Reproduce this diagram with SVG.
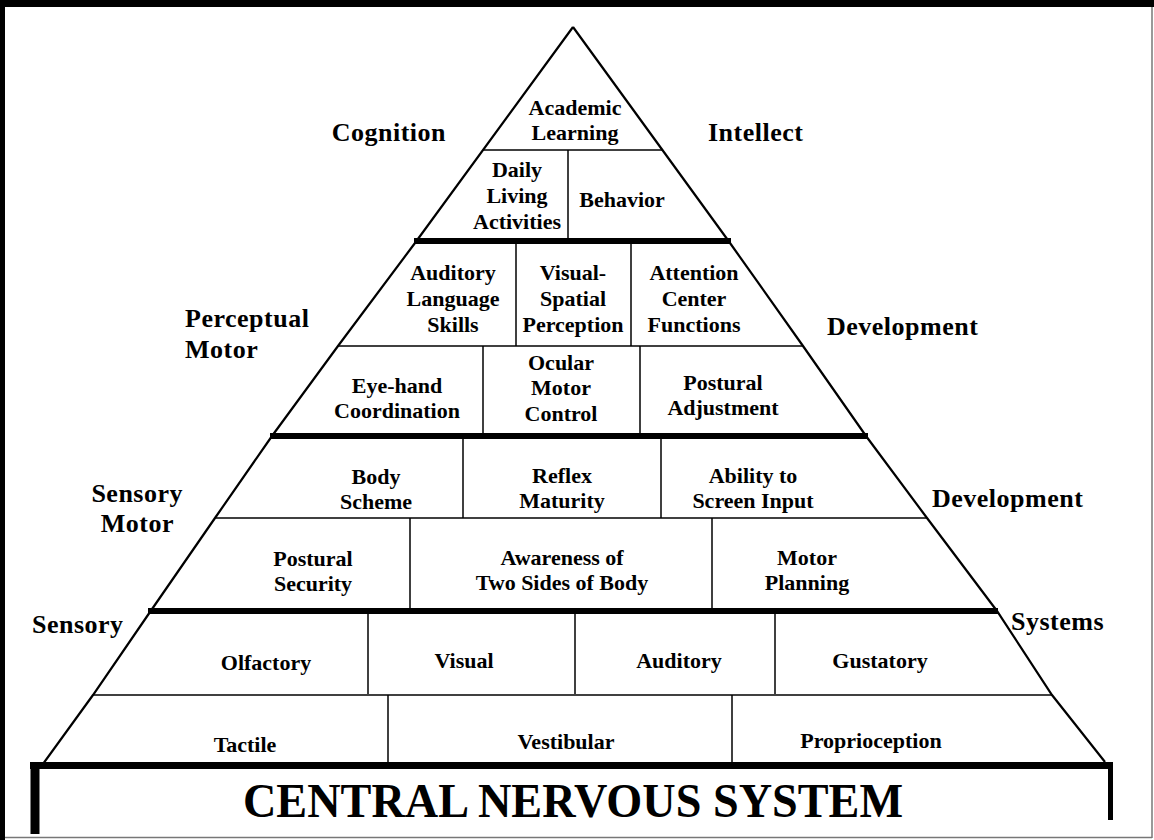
<svg xmlns="http://www.w3.org/2000/svg" width="1154" height="840" viewBox="0 0 1154 840">
<style>
.t{font-family:"Liberation Serif","Times New Roman",serif;font-weight:bold;font-size:22px;fill:#000;text-anchor:middle}
.s{font-family:"Liberation Serif","Times New Roman",serif;font-weight:bold;font-size:26px;letter-spacing:0.5px;fill:#000}
.e{text-anchor:end}
.big{font-family:"Liberation Serif","Times New Roman",serif;font-weight:bold;font-size:48px;fill:#000;text-anchor:middle}
.thin{stroke:#000;stroke-width:1.5;fill:none}
.bold{stroke:#000;stroke-width:6;fill:none}
.edge{stroke:#000;stroke-width:2.2;fill:none}
</style>
<rect x="0" y="0" width="1154" height="840" fill="#fff"/>
<!-- frame -->
<rect x="0" y="0" width="1154" height="7" fill="#000"/>
<rect x="0" y="0" width="5" height="840" fill="#000"/>
<line x1="1152" y1="7" x2="1152" y2="838" stroke="#777" stroke-width="1.5"/>
<line x1="5" y1="837.5" x2="1152" y2="837.5" stroke="#777" stroke-width="1.5"/>

<g id="connectors">
  <!-- pyramid edges -->
  <polyline class="edge" points="573,27 415,243 338,346 272,436 215,518 150,612 93,695 43,764"/>
  <polyline class="edge" points="573,27 730,243 803,346 866,436 927,518 997,611 1052,695 1105,762"/>
  <!-- tier 1 -->
  <line class="thin" x1="483" y1="150" x2="663" y2="150"/>
  <line class="thin" x1="568" y1="150" x2="568" y2="240"/>
  <line class="bold" x1="414" y1="241" x2="731" y2="241"/>
  <!-- tier 2 -->
  <line class="thin" x1="516" y1="244" x2="516" y2="346"/>
  <line class="thin" x1="631" y1="244" x2="631" y2="346"/>
  <line class="thin" x1="338" y1="346" x2="803" y2="346"/>
  <line class="thin" x1="483" y1="346" x2="483" y2="434"/>
  <line class="thin" x1="640" y1="346" x2="640" y2="434"/>
  <line class="bold" x1="270" y1="436" x2="868" y2="436"/>
  <!-- tier 3 -->
  <line class="thin" x1="463" y1="439" x2="463" y2="518"/>
  <line class="thin" x1="661" y1="439" x2="661" y2="518"/>
  <line class="thin" x1="215" y1="518" x2="927" y2="518"/>
  <line class="thin" x1="410" y1="518" x2="410" y2="608"/>
  <line class="thin" x1="712" y1="518" x2="712" y2="608"/>
  <line class="bold" x1="148" y1="611" x2="998" y2="611"/>
  <!-- tier 4 -->
  <line class="thin" x1="368" y1="614" x2="368" y2="694"/>
  <line class="thin" x1="575" y1="614" x2="575" y2="694"/>
  <line class="thin" x1="775" y1="614" x2="775" y2="694"/>
  <line class="thin" x1="93" y1="695" x2="1052" y2="695"/>
  <line class="thin" x1="388" y1="695" x2="388" y2="762"/>
  <line class="thin" x1="732" y1="695" x2="732" y2="762"/>
  <!-- base box -->
  <line x1="30" y1="765.5" x2="1113" y2="765.5" stroke="#000" stroke-width="7"/>
  <line x1="35" y1="762" x2="35" y2="834" stroke="#000" stroke-width="9"/>
  <line x1="1110.5" y1="762" x2="1110.5" y2="820" stroke="#000" stroke-width="5"/>
</g>

<g id="academic-learning"><text class="t" x="575" y="115">Academic</text><text class="t" x="575" y="140">Learning</text></g>
<g id="daily-living"><text class="t" x="517" y="177">Daily</text><text class="t" x="517" y="203">Living</text><text class="t" x="517" y="229">Activities</text></g>
<g id="behavior"><text class="t" x="622" y="207">Behavior</text></g>

<g id="auditory-language"><text class="t" x="453" y="280">Auditory</text><text class="t" x="453" y="306">Language</text><text class="t" x="453" y="332">Skills</text></g>
<g id="visual-spatial"><text class="t" x="573" y="280">Visual-</text><text class="t" x="573" y="306">Spatial</text><text class="t" x="573" y="332">Perception</text></g>
<g id="attention-center"><text class="t" x="694" y="280">Attention</text><text class="t" x="694" y="306">Center</text><text class="t" x="694" y="332">Functions</text></g>

<g id="eye-hand"><text class="t" x="397" y="393">Eye-hand</text><text class="t" x="397" y="418">Coordination</text></g>
<g id="ocular-motor"><text class="t" x="561" y="370">Ocular</text><text class="t" x="561" y="395">Motor</text><text class="t" x="561" y="421">Control</text></g>
<g id="postural-adjustment"><text class="t" x="723" y="390">Postural</text><text class="t" x="723" y="415">Adjustment</text></g>

<g id="body-scheme"><text class="t" x="376" y="484">Body</text><text class="t" x="376" y="509">Scheme</text></g>
<g id="reflex-maturity"><text class="t" x="562" y="483">Reflex</text><text class="t" x="562" y="508">Maturity</text></g>
<g id="screen-input"><text class="t" x="753" y="483">Ability to</text><text class="t" x="753" y="508">Screen Input</text></g>

<g id="postural-security"><text class="t" x="313" y="566">Postural</text><text class="t" x="313" y="591">Security</text></g>
<g id="two-sides"><text class="t" x="562" y="565">Awareness of</text><text class="t" x="562" y="590">Two Sides of Body</text></g>
<g id="motor-planning"><text class="t" x="807" y="565">Motor</text><text class="t" x="807" y="590">Planning</text></g>

<g id="olfactory"><text class="t" x="266" y="670">Olfactory</text></g>
<g id="visual"><text class="t" x="464" y="668">Visual</text></g>
<g id="auditory"><text class="t" x="679" y="668">Auditory</text></g>
<g id="gustatory"><text class="t" x="880" y="668">Gustatory</text></g>

<g id="tactile"><text class="t" x="245" y="752">Tactile</text></g>
<g id="vestibular"><text class="t" x="566" y="749">Vestibular</text></g>
<g id="proprioception"><text class="t" x="871" y="748">Proprioception</text></g>

<g id="cns"><text class="big" x="573" y="817" textLength="660" lengthAdjust="spacingAndGlyphs">CENTRAL NERVOUS SYSTEM</text></g>

<g id="labels">
  <text class="s e" x="446" y="141">Cognition</text>
  <text class="s" x="708" y="141">Intellect</text>
  <text class="s" x="185" y="327">Perceptual</text>
  <text class="s" x="185" y="358">Motor</text>
  <text class="s" x="827" y="335">Development</text>
  <text class="s e" x="183" y="502">Sensory</text>
  <text class="s e" x="174" y="532">Motor</text>
  <text class="s" x="932" y="507">Development</text>
  <text class="s" x="32" y="633">Sensory</text>
  <text class="s" x="1011" y="630">Systems</text>
</g>
</svg>
